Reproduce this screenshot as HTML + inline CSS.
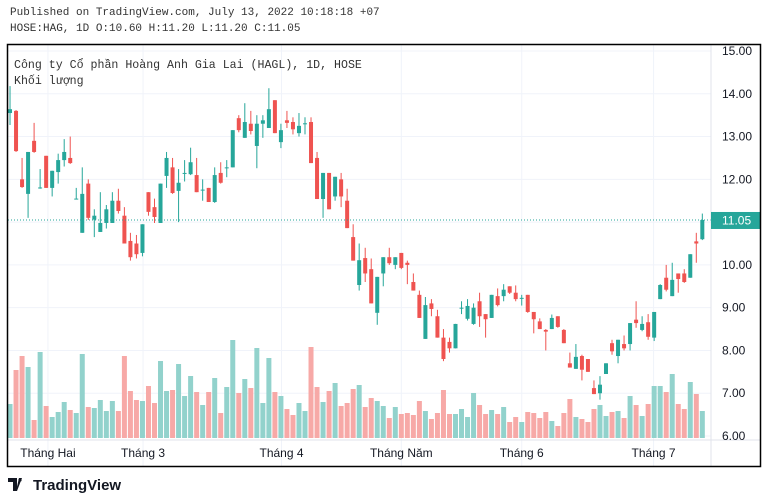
<!DOCTYPE html>
<html><head><meta charset="utf-8">
<style>
html,body{margin:0;padding:0;background:#fff;}
body{width:767px;height:503px;overflow:hidden;position:relative;font-family:"Liberation Sans",sans-serif;}
.hdr{position:absolute;left:10px;font-family:"Liberation Mono",monospace;font-size:11px;color:#333;white-space:nowrap;}
</style></head>
<body>
<div class="hdr" style="top:7px">Published on TradingView.com, July 13, 2022 10:18:18 +07</div>
<div class="hdr" style="top:23px">HOSE:HAG, 1D O:10.60 H:11.20 L:11.20 C:11.05</div>
<svg id="chart" width="767" height="503" style="position:absolute;left:0;top:0"></svg>
<script>
const opens=[13.5,13.55,13.6,12.0,11.66,12.9,11.8,12.55,11.8,12.17,12.45,12.5,11.54,10.75,11.9,11.06,10.77,10.98,10.98,11.5,11.15,10.56,10.5,10.28,11.7,11.35,10.98,12.08,12.28,11.73,12.15,12.12,12.1,11.75,11.8,11.47,12.15,12.28,12.28,13.43,12.97,13.3,12.78,13.3,13.2,13.85,12.87,13.38,13.34,13.08,13.3,13.34,12.5,11.54,12.15,11.6,12.0,11.5,10.65,9.53,10.16,9.9,8.88,9.8,10.18,10.0,10.28,10.05,9.6,9.3,8.27,9.1,8.8,8.3,8.2,8.05,9.0,8.74,8.62,9.15,8.85,8.76,9.27,9.27,9.5,9.35,9.23,9.3,8.9,8.68,8.48,8.5,8.8,8.48,7.7,7.57,7.87,7.8,7.12,7.0,7.45,8.17,7.87,8.15,8.15,8.72,8.48,8.66,8.3,9.2,9.7,9.27,9.8,9.8,9.7,10.55,10.6];
const highs=[14.0,14.18,13.62,12.5,12.64,13.32,12.24,12.55,12.2,12.6,12.94,13.0,11.8,12.28,12.0,11.3,11.7,11.4,11.7,11.78,11.35,10.75,10.7,10.95,11.7,11.55,11.9,12.64,12.5,12.24,12.45,12.74,12.5,12.0,11.8,12.28,12.4,12.45,13.15,13.5,13.78,13.6,13.5,13.5,14.13,13.85,13.3,13.6,13.45,13.55,13.45,13.45,12.64,12.15,12.15,12.06,12.15,11.78,10.95,10.5,10.4,10.15,9.72,10.18,10.4,10.18,10.28,10.1,9.8,9.4,9.25,9.2,8.95,8.5,8.3,8.62,9.15,9.2,9.1,9.35,8.85,9.3,9.45,9.55,9.5,9.52,9.3,9.3,8.9,8.75,8.5,8.84,8.8,8.5,7.95,8.15,7.9,7.8,7.3,7.4,7.7,8.25,8.25,8.35,8.64,9.15,8.8,8.85,8.9,9.55,10.0,10.05,9.8,9.9,10.25,10.75,11.2];
const lows=[13.45,13.27,12.64,11.8,11.1,12.62,11.78,11.8,11.6,11.9,12.3,12.36,11.53,10.75,11.05,10.65,10.77,10.85,10.98,11.2,10.5,10.1,10.15,10.2,11.15,10.98,10.98,11.8,11.66,11.0,11.95,12.1,11.7,11.5,11.47,11.45,11.9,12.05,12.28,13.1,12.97,13.05,12.26,12.97,13.2,13.08,12.73,13.2,13.05,13.0,13.05,12.38,11.54,11.1,11.3,11.5,11.35,10.86,10.1,9.4,9.6,9.1,8.6,9.5,10.0,9.9,9.9,9.55,9.4,8.76,8.27,8.8,8.3,7.75,7.95,8.05,8.85,8.7,8.6,8.55,8.3,8.76,9.03,9.15,9.32,9.15,9.05,8.88,8.4,8.5,8.0,8.5,8.53,8.17,7.6,7.57,7.3,7.5,6.98,6.85,7.45,7.9,7.7,8.0,8.0,8.53,8.45,8.25,8.22,9.2,9.38,9.27,9.35,9.58,9.7,10.05,10.58];
const closes=[13.85,13.64,12.66,11.82,12.64,12.64,11.81,11.8,12.2,12.45,12.64,12.38,11.55,11.66,11.1,11.15,10.98,11.3,11.5,11.26,10.5,10.18,10.25,10.95,11.24,11.12,11.9,12.5,11.68,11.92,12.15,12.4,11.7,11.76,11.47,12.1,11.92,12.28,13.15,13.15,13.34,13.13,13.3,13.38,13.64,13.08,13.15,13.32,13.17,13.25,13.31,12.38,11.54,12.15,11.3,12.06,11.6,10.86,10.1,10.11,9.8,9.1,9.72,10.18,10.04,10.18,9.93,10.0,9.4,8.76,9.06,8.97,8.3,7.8,8.05,8.62,9.0,9.04,9.0,8.8,8.73,9.3,9.06,9.42,9.35,9.2,9.23,8.9,8.73,8.5,8.44,8.76,8.55,8.17,7.6,7.85,7.55,7.5,6.98,7.2,7.7,7.98,8.25,8.05,8.64,8.64,8.62,8.32,8.9,9.53,9.42,9.65,9.67,9.6,10.25,10.5,11.05];
const volumes=[61,34,68,82,71,18,86,32,21,26,36,28,25,84,31,30,38,27,37,27,82,47,38,37,52,35,77,47,48,74,42,62,46,33,46,60,25,51,98,45,59,50,90,35,80,46,42,29,23,35,27,91,51,36,47,55,32,35,49,53,31,40,37,32,20,31,24,25,23,37,27,19,25,48,24,24,29,21,45,33,24,28,24,31,16,21,16,26,25,20,26,17,12,25,39,21,19,16,29,33,22,26,27,20,42,33,22,34,52,52,46,64,34,29,56,44,27];
const priceTicks=[15,14,13,12,11,10,9,8,7,6];
const monthLabels=["Tháng Hai","Tháng 3","Tháng 4","Tháng Năm","Tháng 6","Tháng 7"];
const monthIndex=[7.3,23.1,46.1,66.0,86.0,107.9];
const lastPrice=11.05;

const NS="http://www.w3.org/2000/svg";
const svg=document.getElementById('chart');
const yP=p=>51+(15-p)*42.78;
const xI=i=>4+6.02*i;
const yV=v=>438-v*1.0;
function mk(t,a,parent){const e=document.createElementNS(NS,t);for(const k in a)e.setAttribute(k,a[k]);(parent||svg).appendChild(e);return e;}

const defs=mk('defs',{});
const cp=mk('clipPath',{id:'pane'},defs);
mk('rect',{x:8,y:45,width:703,height:395},cp);

priceTicks.forEach(p=>{
  const g=mk('line',{x1:8,x2:711,y1:yP(p),y2:yP(p),stroke:'#f0f3fa','stroke-width':1});
  
  
});
monthIndex.forEach(m=>{
  const g=mk('line',{x1:xI(m),x2:xI(m),y1:45,y2:466,stroke:'#f0f3fa','stroke-width':1});
  
  
});

const pane=mk('g',{'clip-path':'url(#pane)'});



volumes.forEach((v,i)=>{
  const up=closes[i]>=opens[i];
  const r=mk('rect',{x:xI(i)-2.5,y:yV(v),width:5,height:438-yV(v),fill:up?'#92d2cc':'#f7a9a7'},pane);
  
  
});

const lp=mk('line',{x1:8,x2:711,y1:yP(lastPrice),y2:yP(lastPrice),stroke:'#26a69a','stroke-width':1,'stroke-dasharray':'1 2'});



opens.forEach((o,i)=>{
  const c=closes[i],up=c>=o,col=up?'#26a69a':'#ef5350';
  const g=mk('g',{},pane);
  
  
  const x=xI(i);
  mk('line',{x1:x,x2:x,y1:yP(Math.max(highs[i],o,c)),y2:yP(Math.min(lows[i],o,c)),stroke:col,'stroke-width':1},g);
  const t=yP(Math.max(o,c)),b=yP(Math.min(o,c));
  mk('rect',{x:x-2,y:t,width:4,height:Math.max(1,b-t),fill:col},g);
});

const sepY=mk('line',{x1:711,x2:711,y1:45,y2:466,stroke:'#e0e3eb','stroke-width':1});


const sepX=mk('line',{x1:8,x2:760,y1:440,y2:440,stroke:'#e0e3eb','stroke-width':1});



priceTicks.forEach(p=>{
  const t=mk('text',{x:722,y:yP(p)+4,'font-size':12,fill:'#131722','font-family':'Liberation Sans, sans-serif'});
  t.textContent=p.toFixed(2);
  
  
});
const box=mk('rect',{x:711,y:yP(lastPrice)-8,width:49,height:17,fill:'#26a69a'});


const bt=mk('text',{x:722,y:yP(lastPrice)+4.5,'font-size':12,fill:'#fff','font-family':'Liberation Sans, sans-serif'});
bt.textContent=lastPrice.toFixed(2);



monthLabels.forEach((m,k)=>{
  const t=mk('text',{x:xI(monthIndex[k]),y:457,'font-size':12,fill:'#131722','text-anchor':'middle','font-family':'Liberation Sans, sans-serif'});
  t.textContent=m;
  
  
});

const fr=mk('rect',{x:7.5,y:44.5,width:753,height:422,fill:'none',stroke:'#000','stroke-width':1.5});



const t1=mk('text',{x:14,y:68,'font-size':11.6,fill:'#333','font-family':'Liberation Mono, Noto Sans CJK SC, monospace'});
t1.textContent='Công ty Cổ phần Hoàng Anh Gia Lai (HAGL), 1D, HOSE';


const t2=mk('text',{x:14,y:84,'font-size':11.6,fill:'#333','font-family':'Liberation Mono, Noto Sans CJK SC, monospace'});
t2.textContent='Khối lượng';



const lg=mk('g',{});


mk('path',{d:'M8 478h9v13h-4v-9h-5z M19 478h3l-5 13h-1z',fill:'#131722'},lg);
mk('circle',{cx:20,cy:480,r:1.6,fill:'#131722'},lg);
const lt=mk('text',{x:33,y:490,'font-size':15,'font-weight':'bold',fill:'#131722','font-family':'Liberation Sans, sans-serif'},lg);
lt.textContent='TradingView';
</script>
</body></html>
